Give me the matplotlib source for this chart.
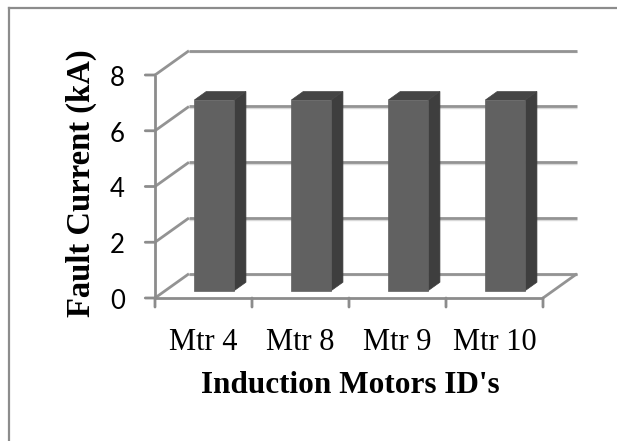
import numpy as np
import matplotlib
matplotlib.use('Agg')
import matplotlib.pyplot as plt
from matplotlib.patches import Polygon
from matplotlib.lines import Line2D

# fault current per induction motor
motors = ["Mtr 4", "Mtr 8", "Mtr 9", "Mtr 10"]
fault_current = [6.84, 6.84, 6.84, 6.84]
yticks = [0, 2, 4, 6, 8]

# oblique depth of the 3-D box (data units for depth = 1)
DEPTH_X = 0.35
DEPTH_Y = 0.87
BAR_D0, BAR_D1 = 0.30, 0.65      # bar front / back depth
BAR_LEFT, BAR_W = 0.30, 0.41     # bar position inside a category slot

GRID_C = '#939393'
AXIS_C = '#8c8c8c'
FRONT_C = '#616161'
SIDE_C = '#3e3e3e'
TOP_C = '#454545'

W, H = 617, 441
fig = plt.figure(figsize=(W / 100, H / 100), dpi=100)

# outer chart frame (only left and top edges fall inside the image)
fx, fy = 9 / W, 1 - 8 / H
fig.add_artist(Line2D([fx, fx], [0, fy], transform=fig.transFigure,
                      color=AXIS_C, lw=1.6))
fig.add_artist(Line2D([fx, 1], [fy, fy], transform=fig.transFigure,
                      color=AXIS_C, lw=1.6))

# axes = front plane of the box
ax = fig.add_axes([155 / W, 1 - 298 / H, (543 - 155) / W, (298 - 75) / H])
ax.set_xlim(0, len(motors))
ax.set_ylim(0, 8)
ax.axis('off')


def shift(x, y, d):
    return x + DEPTH_X * d, y + DEPTH_Y * d


n = len(motors)
kw = dict(clip_on=False, solid_capstyle='butt')

# back wall gridlines + left wall diagonals
for v in yticks:
    x0, y0 = shift(0, v, 1)
    x1, y1 = shift(n, v, 1)
    ax.plot([x0, x1], [y0 - 0.06, y1 - 0.06], color='#d9d9d9', lw=1.0, zorder=1, **kw)
    ax.plot([x0, x1], [y0, y1], color=GRID_C, lw=2.0, zorder=1, **kw)
    ax.plot([0, x0], [v, y0], color=GRID_C, lw=2.0, zorder=1, **kw)

# floor: right edge diagonal and front edge
xr, yr = shift(n, 0, 1)
ax.plot([n, xr], [0, yr], color=GRID_C, lw=2.0, zorder=1, **kw)
ax.plot([0, n], [0, 0], color=AXIS_C, lw=2.0, zorder=2, **kw)

# front value axis with ticks
ax.plot([0, 0], [0, 8], color=AXIS_C, lw=2.0, zorder=2, **kw)
for v in yticks:
    ax.annotate('', xy=(0, v), xytext=(-7, 0), textcoords='offset points',
                arrowprops=dict(arrowstyle='-', color=AXIS_C, lw=2.0,
                                shrinkA=0, shrinkB=0))
    ax.annotate(str(v), xy=(0, v), xytext=(-27, -2.5), textcoords='offset points',
                ha='center', va='center', fontsize=18.5, family='Lato',
                color='black')

# category ticks
for i in range(n + 1):
    ax.annotate('', xy=(i, 0), xytext=(0, -6.5), textcoords='offset points',
                arrowprops=dict(arrowstyle='-', color=AXIS_C, lw=2.0,
                                shrinkA=0, shrinkB=0))

for i, (name, val) in enumerate(zip(motors, fault_current)):
    ax.annotate(name, xy=(i + 0.5, 0), xytext=(0, -37.5), textcoords='offset points',
                ha='center', va='baseline', fontsize=22, family='Liberation Serif')

    # 3-D bar: front face, top, right side
    xa = i + BAR_LEFT
    xb = xa + BAR_W
    fa = shift(xa, 0, BAR_D0)
    fb = shift(xb, 0, BAR_D0)
    ta = shift(xa, val, BAR_D0)
    tb = shift(xb, val, BAR_D0)
    ba = shift(xa, val, BAR_D1)
    bb = shift(xb, val, BAR_D1)
    bl = shift(xb, 0, BAR_D1)
    ax.add_patch(Polygon([fb, tb, bb, bl], closed=True, facecolor=SIDE_C,
                         edgecolor=SIDE_C, lw=0.5, zorder=3, clip_on=False))
    ax.add_patch(Polygon([ta, tb, bb, ba], closed=True, facecolor=TOP_C,
                         edgecolor=TOP_C, lw=0.5, zorder=3, clip_on=False))
    ax.add_patch(Polygon([fa, fb, tb, ta], closed=True, facecolor=FRONT_C,
                         edgecolor=FRONT_C, lw=0.5, zorder=4, clip_on=False))

fig.text(81 / W, 1 - 183 / H, 'Fault Current (kA)', rotation=90,
         ha='center', va='center', fontsize=23.5, fontweight='bold',
         family='Liberation Serif')
fig.text(350 / W, 1 - 393 / H, "Induction Motors ID's", ha='center',
         va='baseline', fontsize=22.5, fontweight='bold',
         family='Liberation Serif')

fig.savefig('out.png', dpi=100, facecolor='white')
